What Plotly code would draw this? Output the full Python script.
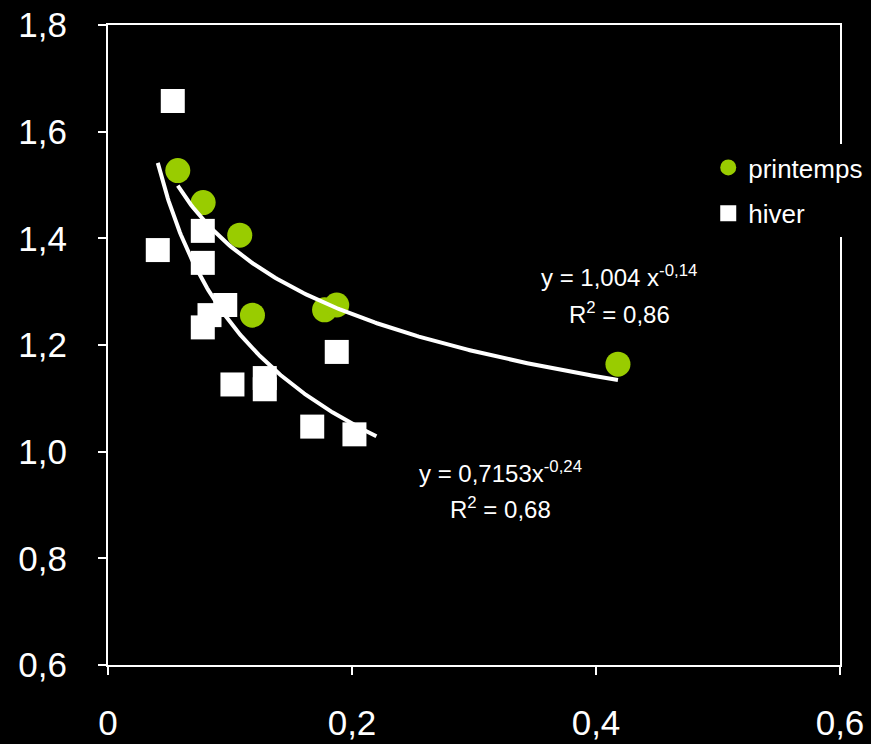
import numpy as np
import plotly.graph_objects as go

# printemps (spring) data
printemps_x = [0.0572, 0.078, 0.108, 0.1184, 0.1775, 0.1875, 0.418]
printemps_y = [1.527, 1.467, 1.406, 1.256, 1.266, 1.275, 1.164]

# hiver (winter) data
hiver_x = [0.0531, 0.0777, 0.0408, 0.0777, 0.0961, 0.0832, 0.0777, 0.102, 0.1285, 0.1285, 0.1875, 0.1674, 0.202]
hiver_y = [1.6575, 1.414, 1.378, 1.354, 1.275, 1.256, 1.233, 1.126, 1.138, 1.117, 1.187, 1.047, 1.0325]

# power trendline coefficients y = a * x^b
printemps_a, printemps_b = 1.004, -0.14
hiver_a, hiver_b = 0.7153, -0.24
hiver_trend_end = 0.22

GREEN = "#99cc00"
FONT = "Liberation Sans, Arial, sans-serif"

fig = go.Figure()
fig.add_trace(go.Scatter(x=printemps_x, y=printemps_y, mode="markers", name="printemps",
                         legendgroup="p",
                         marker=dict(symbol="circle", size=25, color=GREEN, line=dict(width=0))))
fig.add_trace(go.Scatter(x=hiver_x, y=hiver_y, mode="markers", name="hiver",
                         legendgroup="h",
                         marker=dict(symbol="square", size=24, color="white", line=dict(width=0))))

tx_p = np.linspace(min(printemps_x), max(printemps_x), 200)
fig.add_trace(go.Scatter(x=tx_p, y=printemps_a * tx_p ** printemps_b, mode="lines",
                         line=dict(color="white", width=4), showlegend=False, hoverinfo="skip"))
tx_h = np.linspace(min(hiver_x), hiver_trend_end, 200)
fig.add_trace(go.Scatter(x=tx_h, y=hiver_a * tx_h ** hiver_b, mode="lines",
                         line=dict(color="white", width=4), showlegend=False, hoverinfo="skip"))

ann_font = dict(family=FONT, size=24, color="white")
annotations = [
    dict(x=0.419, y=1.3285, text="y = 1,004 x<sup>-0,14</sup>", showarrow=False, font=ann_font,
         xanchor="center", yanchor="middle"),
    dict(x=0.419, y=1.2595, text="R<sup>2</sup> = 0,86", showarrow=False, font=ann_font,
         xanchor="center", yanchor="middle"),
    dict(x=0.3217, y=0.9618, text="y = 0,7153x<sup>-0,24</sup>", showarrow=False, font=ann_font,
         xanchor="center", yanchor="middle"),
    dict(x=0.3217, y=0.8943, text="R<sup>2</sup> = 0,68", showarrow=False, font=ann_font,
         xanchor="center", yanchor="middle"),
]

fig.update_layout(
    width=871, height=744,
    margin=dict(l=108, r=31, t=25, b=79, autoexpand=False),
    paper_bgcolor="black", plot_bgcolor="black",
    separators=", ",
    font=dict(family=FONT, color="white"),
    showlegend=True,
    legend=dict(x=0.82, y=0.814, xanchor="left", yanchor="top", bgcolor="black",
                font=dict(family=FONT, size=26, color="white"),
                tracegroupgap=9, traceorder="grouped"),
    annotations=annotations,
    xaxis=dict(range=[0, 0.6], dtick=0.2, tick0=0, showgrid=False, zeroline=False,
               showline=True, mirror=True, linecolor="white", linewidth=2,
               ticks="outside", ticklen=8, tickwidth=2, tickcolor="white", automargin=False,
               tickfont=dict(family=FONT, size=35, color="white"), ticklabelstandoff=18),
    yaxis=dict(range=[0.6, 1.8], dtick=0.2, tick0=0.6, tickformat=".1f", showgrid=False, zeroline=False,
               showline=True, mirror=True, linecolor="white", linewidth=2,
               ticks="outside", ticklen=8, tickwidth=2, tickcolor="white", automargin=False,
               tickfont=dict(family=FONT, size=35, color="white"), ticklabelstandoff=24),
)

fig.write_html("out.html")
